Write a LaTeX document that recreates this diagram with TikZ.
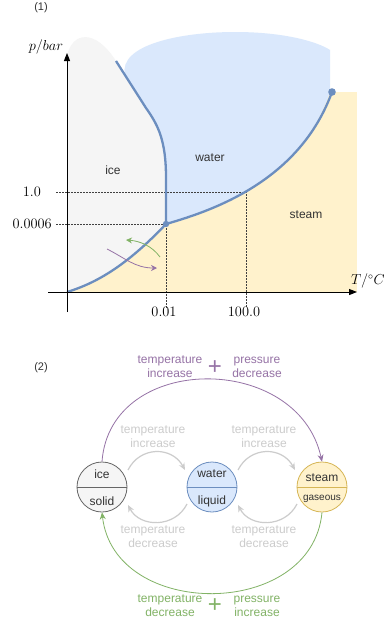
\documentclass[tikz,border=0pt]{standalone}
\usepackage[no-math]{fontspec}
\setmainfont{Liberation Sans}
\usetikzlibrary{arrows.meta}
\definecolor{iceF}{HTML}{F5F5F5}
\definecolor{iceS}{HTML}{666666}
\definecolor{waterF}{HTML}{DAE8FC}
\definecolor{waterS}{HTML}{6C8EBF}
\definecolor{steamF}{HTML}{FFF2CC}
\definecolor{steamS}{HTML}{D6B656}
\definecolor{purp}{HTML}{9673A6}
\definecolor{gren}{HTML}{82B366}
\definecolor{lgray}{HTML}{CCCCCC}
\definecolor{txtc}{HTML}{333333}
\tikzset{
  phasecurve/.style={draw=waterS, line width=2.3pt, line join=round},
  dotline/.style={draw=black!75, dash pattern=on 1.5pt off 1.5pt, line width=0.6pt},
  axisline/.style={line width=1pt, -{Triangle[length=8pt,width=6pt]}},
  mathlab/.style={font=\fontsize{14}{16}\selectfont, inner sep=0pt},
  regionlab/.style={font=\fontsize{12}{14}\selectfont, text=txtc, inner sep=0pt},
  phasenode/.style={circle, minimum size=50pt, inner sep=0pt, line width=0.8pt},
  intext/.style={font=\fontsize{12}{14}\selectfont, text=txtc, inner sep=0pt},
  twoline/.style={font=\fontsize{12}{14}\selectfont, align=center, inner sep=0pt},
  plussign/.style={font=\fontsize{24}{24}\selectfont, inner sep=0pt},
  bigarrow/.style={line width=0.8pt, -{Stealth[length=7pt,width=6pt]}},
  grayarrow/.style={draw=lgray, line width=1.2pt, -{Stealth[length=7pt,width=6pt]}},
  smallarrow/.style={line width=0.8pt, -{Stealth[length=6pt,width=6pt]}},
  paneltag/.style={font=\fontsize{11}{13}\selectfont, text=txtc, inner sep=0pt},
}
\begin{document}
\begin{tikzpicture}[x=1pt,y=-1pt]
\useasboundingbox (0,0) rectangle (383,621);
\fill[white] (0,0) rectangle (383,621);

% ---------- panel (1) ----------
\node[paneltag] (tag1) at (41,8) {(1)};

% regions
\fill[steamF] (67,92) rectangle (357,292);
\fill[iceF] (67,292) -- (67,56) .. controls (72,32) and (95,28) .. (116,61)
  -- (146,108) .. controls (158,125) and (166,140) .. (166,178) -- (166,224)
  .. controls (130,262) and (100,282) .. (67,292) -- cycle;
\fill[waterF] (125,75) .. controls (118,45) and (180,32) .. (235,32)
  .. controls (285,32) and (318,42) .. (330,50) -- (330,92)
  .. controls (300,180) and (215,210) .. (166,224) -- (166,178)
  .. controls (166,140) and (158,125) .. (146,108) -- cycle;

% dotted guides
\draw[dotline] (56,192) -- (246,192) -- (246,308);
\draw[dotline] (56,224) -- (166,224) -- (166,308);

% phase boundaries
\draw[phasecurve] (67,292) .. controls (100,282) and (130,262) .. (166,224);
\draw[phasecurve] (166,224) -- (166,178) .. controls (166,140) and (158,125) .. (146,108) -- (116,61);
\draw[phasecurve] (166,224) .. controls (215,210) and (300,180) .. (332,92);
\fill[waterS] (166,224) circle (3.2pt);
\fill[waterS] (332,92) circle (3.8pt);

% small transition arrows
\draw[smallarrow, gren] (160,257) .. controls (152,246) and (140,241) .. (126,240);
\draw[smallarrow, purp] (107,249) .. controls (125,258) and (135,268) .. (157,268);

% axes
\draw[axisline] (67,312) -- (67,53);
\draw[axisline] (48,292) -- (357,292);
\node[mathlab] (plab) at (46,47) {$p/bar$};
\node[mathlab, anchor=west] (tlab) at (351,281) {$T/^{\circ}C$};
\node[mathlab, anchor=east] (y1) at (41,192) {$1.0$};
\node[mathlab, anchor=east] (y2) at (52,224) {$0.0006$};
\node[mathlab] (x1) at (164,312) {$0.01$};
\node[mathlab] (x2) at (244,312) {$100.0$};

\node[regionlab] (icelab) at (113,170) {ice};
\node[regionlab] (waterlab) at (210,158) {water};
\node[regionlab] (steamlab) at (306,215) {steam};

% ---------- panel (2) ----------
\node[paneltag] (tag2) at (41,368) {(2)};

\node[phasenode, draw=iceS, fill=iceF] (ice) at (102,487) {};
\node[phasenode, draw=waterS, fill=waterF] (water) at (212,487) {};
\node[phasenode, draw=steamS, fill=steamF] (steam) at (322,487) {};
\draw[iceS, line width=0.8pt] (ice.west) -- (ice.east);
\draw[waterS, line width=0.8pt] (water.west) -- (water.east);
\draw[steamS, line width=0.8pt] (steam.west) -- (steam.east);

\node[intext] (iceT) at (102,474) {ice};
\node[intext] (iceB) at (102,501) {solid};
\node[intext] (waterT) at (212,474) {water};
\node[intext] (waterB) at (212,501) {liquid};
\node[intext] (steamT) at (322,478) {steam};
\node[intext, font=\fontsize{10}{12}\selectfont] (steamB) at (322,499) {gaseous};

% gray step arrows
\coordinate (g1s) at (128,470); \coordinate (g1e) at (185,470);
\coordinate (g2s) at (238,470); \coordinate (g2e) at (295,470);
\coordinate (g3s) at (187,504); \coordinate (g3e) at (128,505);
\coordinate (g4s) at (297,504); \coordinate (g4e) at (238,505);
\draw[grayarrow] (g1s) .. controls (140,446) and (172,446) .. (g1e);
\draw[grayarrow] (g2s) .. controls (250,446) and (282,446) .. (g2e);
\draw[grayarrow] (g3s) .. controls (175,528) and (140,528) .. (g3e);
\draw[grayarrow] (g4s) .. controls (285,528) and (250,528) .. (g4e);
\node[twoline, text=lgray] (gl1) at (153,437) {temperature\\increase};
\node[twoline, text=lgray] (gl2) at (264,437) {temperature\\increase};
\node[twoline, text=lgray] (gl3) at (153,537) {temperature\\decrease};
\node[twoline, text=lgray] (gl4) at (264,537) {temperature\\decrease};

% big arrows
\draw[bigarrow, purp] (ice.north) .. controls (110,352) and (298,352) .. (steam.north);
\draw[bigarrow, gren] (steam.south) .. controls (312,620) and (114,620) .. (ice.south);

\node[twoline, text=purp] (pl1) at (170,367) {temperature\\increase};
\node[plussign, text=purp] (pplus) at (215,368) {+};
\node[twoline, text=purp] (pl2) at (257,367) {pressure\\decrease};
\node[twoline, text=gren] (gr1) at (170,606) {temperature\\decrease};
\node[plussign, text=gren] (gplus) at (215,606) {+};
\node[twoline, text=gren] (gr2) at (257,606) {pressure\\increase};
\end{tikzpicture}
\end{document}
